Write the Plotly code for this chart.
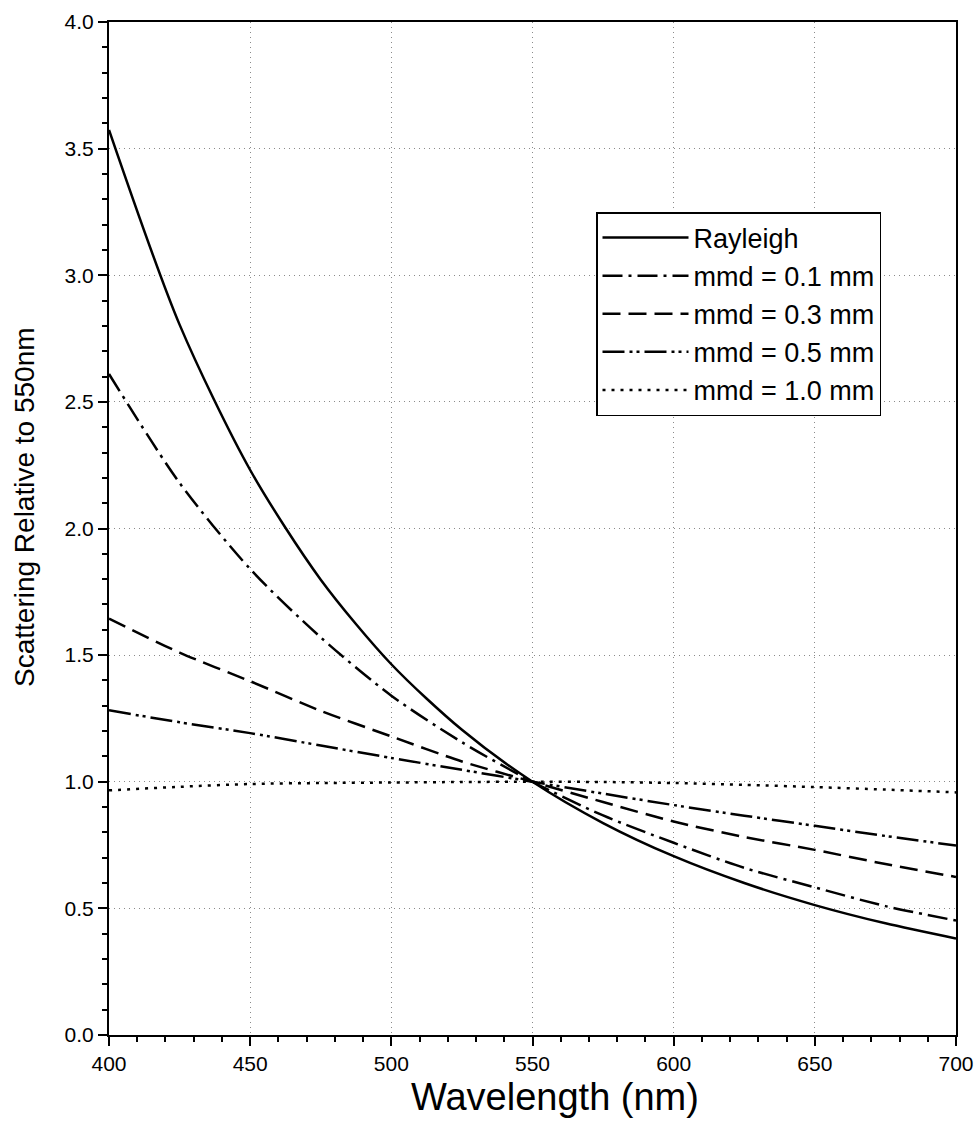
import plotly.graph_objects as go

wavelength = [400, 425, 450, 475, 500, 525, 550, 575, 600, 625, 650, 675, 700]
rayleigh = [3.574, 2.805, 2.231, 1.798, 1.464, 1.205, 1.000, 0.837, 0.706, 0.600, 0.513, 0.441, 0.381]
mmd_01 = [2.61, 2.18, 1.84, 1.57, 1.34, 1.156, 1.000, 0.867, 0.759, 0.660, 0.583, 0.509, 0.452]
mmd_03 = [1.644, 1.51, 1.397, 1.28, 1.179, 1.08, 1.000, 0.92, 0.843, 0.782, 0.731, 0.675, 0.624]
mmd_05 = [1.282, 1.235, 1.192, 1.143, 1.094, 1.047, 1.000, 0.953, 0.908, 0.866, 0.826, 0.786, 0.748]
mmd_10 = [0.966, 0.980, 0.991, 0.995, 0.997, 0.999, 1.000, 0.999, 0.995, 0.988, 0.979, 0.969, 0.958]

series = [
    ("Rayleigh", rayleigh, "solid"),
    ("mmd = 0.1 mm", mmd_01, "20px,6px,3px,6px"),
    ("mmd = 0.3 mm", mmd_03, "18px,8px"),
    ("mmd = 0.5 mm", mmd_05, "22px,5px,3px,4px,3px,5px"),
    ("mmd = 1.0 mm", mmd_10, "3px,6px"),
]

fig = go.Figure()
for name, vals, dash in series:
    fig.add_trace(go.Scatter(
        x=wavelength, y=vals, mode="lines", name=name,
        line=dict(color="black", width=2.5, dash=dash, shape="spline", smoothing=0.8),
    ))

font_family = "Liberation Sans, Arial, sans-serif"
W, H = 979, 1132
ML, MR, MT, MB = 109, 23, 22, 97
PW, PH = W - ML - MR, H - MT - MB

fig.update_layout(
    width=W, height=H,
    margin=dict(l=ML, r=MR, t=MT, b=MB),
    paper_bgcolor="white", plot_bgcolor="white",
    font=dict(family=font_family, color="black", size=21),
    showlegend=True,
    legend=dict(
        x=(596 - ML) / PW, y=(MT + PH - 212) / PH, xanchor="left", yanchor="top",
        bordercolor="black", borderwidth=1.5, bgcolor="white",
        font=dict(size=27, family=font_family, color="black"),
        tracegroupgap=0, itemwidth=86,
    ),
    annotations=[
        dict(text="Wavelength (nm)", xref="paper", yref="paper",
             x=(555 - ML) / PW, y=-(1097 - (MT + PH)) / PH, xanchor="center", yanchor="middle",
             showarrow=False, font=dict(size=38, family=font_family, color="black")),
        dict(text="Scattering Relative to 550nm", xref="paper", yref="paper",
             x=-(ML - 24) / PW, y=(MT + PH - 507) / PH, xanchor="center", yanchor="middle",
             textangle=-90, showarrow=False, font=dict(size=28, family=font_family, color="black")),
    ],
)

fig.update_xaxes(
    range=[400, 700], dtick=50, tick0=400, automargin=False,
    showline=True, linecolor="black", linewidth=2, mirror=True,
    ticks="outside", ticklen=9, tickwidth=2, tickcolor="black",
    minor=dict(dtick=10, ticks="outside", ticklen=5, tickwidth=1.5, tickcolor="black", showgrid=False),
    showgrid=True, gridcolor="#8a8a8a", griddash="1px,4px", gridwidth=1,
    zeroline=False,
    tickfont=dict(size=21),
)
fig.update_yaxes(
    range=[0, 4.0], dtick=0.5, tick0=0, tickformat=".1f", automargin=False,
    showline=True, linecolor="black", linewidth=2, mirror=True,
    ticks="outside", ticklen=9, tickwidth=2, tickcolor="black",
    minor=dict(dtick=0.1, ticks="outside", ticklen=5, tickwidth=1.5, tickcolor="black", showgrid=False),
    showgrid=True, gridcolor="#8a8a8a", griddash="1px,4px", gridwidth=1,
    zeroline=False,
    tickfont=dict(size=21),
)

fig.write_html("out.html")
